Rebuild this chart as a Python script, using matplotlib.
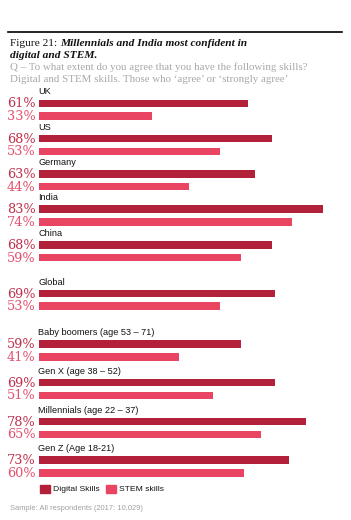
import numpy as np
import matplotlib.pyplot as plt

groups = ['UK', 'US', 'Germany', 'India', 'China', 'Global',
          'Baby boomers (age 53 – 71)', 'Gen X (age 38 – 52)',
          'Millennials (age 22 – 37)', 'Gen Z (Age 18-21)']
digital = [61, 68, 63, 83, 68, 69, 59, 69, 78, 73]
stem = [33, 53, 44, 74, 59, 53, 41, 51, 65, 60]
series = ['Digital Skills', 'STEM skills']

dark = '#B3203A'
pink = '#EA4463'
dark_txt = '#C0304A'
pink_txt = '#E4506C'

W, H = 351, 520
fig = plt.figure(figsize=(W / 100, H / 100), dpi=100)

# pixel-space axes for text
tx = fig.add_axes([0, 0, 1, 1])
tx.set_xlim(0, W)
tx.set_ylim(H, 0)
tx.axis('off')

# bar axes: x in percent, y in pixels
x0 = 38.5
px_per = 3.43
xmax = (W - x0) / px_per
ax = fig.add_axes([x0 / W, 0, 1 - x0 / W, 1])
ax.set_xlim(0, xmax)
ax.set_ylim(H, 0)
ax.axis('off')

# group positions (digital bar centre) with wider breaks around Global
gaps = [0, 35.3, 35.3, 35.3, 35.6, 48.7, 50.6, 38.5, 39, 38.6]
ypos = 103.3 + np.cumsum(gaps)
bh = 7.5
dy = 12.7

ax.barh(ypos, digital, height=bh, color=dark)
ax.barh(ypos + dy, stem, height=bh, color=pink)

for y, g, d, s in zip(ypos, groups, digital, stem):
    tx.text(x0, y - 11.3, g, fontsize=6.6, family='Liberation Sans',
            va='center', ha='left', color='#111111')
    tx.text(35.5, y + 0.5, f'{d}%', fontsize=9.3, family='DejaVu Serif',
            va='center', ha='right', color=dark_txt)
    tx.text(35.5, y + dy + 0.5, f'{s}%', fontsize=9.3, family='DejaVu Serif',
            va='center', ha='right', color=pink_txt)

# header
tx.plot([8, 342], [32, 32], color='black', lw=1.2)
t1 = tx.text(10, 43, 'Figure 21: ', fontsize=8.2, family='Liberation Serif',
             va='center', ha='left', color='#111111')
tx.annotate('Millennials and India most confident in', xy=(1, 0.5), xycoords=t1,
            fontsize=8.2, family='Liberation Serif', style='italic', weight='bold',
            va='center', ha='left', color='#111111')
tx.text(10, 55, 'digital and STEM.', fontsize=8.2, family='Liberation Serif',
        style='italic', weight='bold', va='center', ha='left', color='#111111')
tx.text(10, 67.5, 'Q – To what extent do you agree that you have the following skills?',
        fontsize=7.8, family='Liberation Serif', va='center', ha='left', color='#A8A8A8')
tx.text(10, 80, 'Digital and STEM skills. Those who ‘agree’ or ‘strongly agree’',
        fontsize=7.8, family='Liberation Serif', va='center', ha='left', color='#A8A8A8')

# legend
for lx, c, lab in zip([40, 106], [dark, pink], series):
    tx.add_patch(plt.Rectangle((lx, 485), 10, 8, color=c))
    tx.text(lx + 13, 489.5, lab, fontsize=6.1, family='Liberation Sans',
            va='center', ha='left', color='#111111')

tx.text(10, 508, 'Sample: All respondents (2017: 10,029)', fontsize=5.4,
        family='Liberation Sans', va='center', ha='left', color='#A0A0A0')

fig.savefig('out.png', dpi=100)
